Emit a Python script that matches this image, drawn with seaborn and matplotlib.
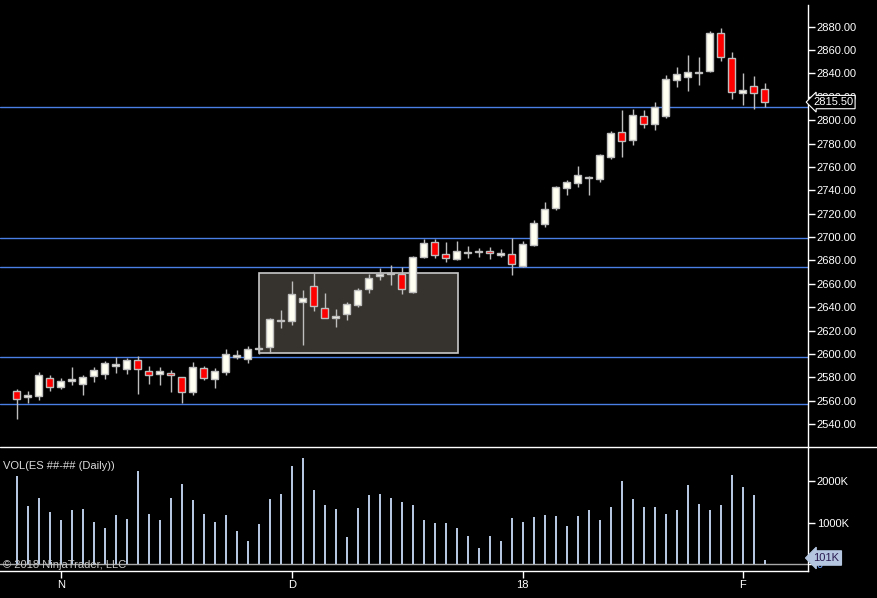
import numpy as np
import pandas as pd
import matplotlib
matplotlib.use("Agg")
import matplotlib.pyplot as plt
import matplotlib.patches as mpatches
from matplotlib.lines import Line2D
import seaborn as sns

# ---------------- data ----------------
opens = [2568.3, 2562.8, 2564.3, 2579.1, 2571.4, 2576.5, 2574.5, 2580.8, 2583.1, 2589.9,
         2587.4, 2594.5, 2585.1, 2583.1, 2583.7, 2579.9, 2567.7, 2587.7, 2578.8, 2584.8,
         2597.6, 2595.9, 2604.2, 2605.6, 2628.0, 2627.8, 2644.1, 2657.8, 2639.0, 2630.4,
         2633.8, 2642.1, 2655.2, 2666.6, 2668.1, 2668.6, 2653.2, 2683.2, 2695.4, 2685.2,
         2681.5, 2686.4, 2687.3, 2687.7, 2684.3, 2685.2, 2675.5, 2693.1, 2710.8, 2725.1,
         2741.6, 2746.5, 2750.5, 2749.9, 2768.7, 2789.6, 2782.7, 2803.3, 2797.0, 2803.8,
         2834.6, 2837.2, 2840.4, 2842.3, 2874.3, 2852.9, 2822.9, 2828.9, 2826.4]
highs = [2570.0, 2568.3, 2584.5, 2581.9, 2579.4, 2588.8, 2581.9, 2588.8, 2593.9, 2597.1,
         2596.5, 2598.2, 2589.7, 2588.8, 2585.9, 2580.5, 2593.1, 2589.7, 2587.9, 2603.9,
         2603.3, 2606.8, 2607.6, 2630.7, 2637.5, 2662.4, 2654.7, 2668.9, 2652.1, 2638.4,
         2644.7, 2656.4, 2668.3, 2673.8, 2676.0, 2674.1, 2683.7, 2698.3, 2698.3, 2695.4,
         2696.6, 2692.3, 2690.3, 2691.2, 2689.5, 2698.9, 2696.3, 2714.5, 2729.9, 2743.6,
         2748.8, 2760.8, 2752.2, 2771.0, 2790.7, 2808.7, 2809.8, 2808.7, 2815.5, 2838.3,
         2845.5, 2855.7, 2854.0, 2876.3, 2878.6, 2858.3, 2840.3, 2837.8, 2831.8]
lows = [2544.3, 2558.0, 2560.6, 2568.3, 2570.0, 2573.4, 2564.8, 2576.2, 2578.8, 2584.0,
        2583.1, 2566.0, 2574.5, 2573.4, 2567.4, 2558.0, 2564.8, 2577.7, 2571.1, 2582.2,
        2595.6, 2592.5, 2599.9, 2601.0, 2622.4, 2625.0, 2607.6, 2637.0, 2630.4, 2623.3,
        2629.3, 2640.4, 2652.4, 2663.5, 2658.9, 2651.5, 2652.4, 2682.3, 2682.3, 2678.9,
        2680.3, 2682.3, 2683.2, 2681.5, 2682.6, 2667.6, 2674.1, 2692.3, 2708.8, 2723.1,
        2735.9, 2743.1, 2735.9, 2747.4, 2767.0, 2768.7, 2778.7, 2793.6, 2791.6, 2802.1,
        2828.6, 2825.2, 2830.4, 2840.9, 2850.9, 2818.4, 2813.2, 2809.2, 2811.5]
closes = [2561.7, 2564.5, 2581.9, 2571.4, 2576.5, 2578.2, 2580.2, 2585.9, 2591.9, 2591.4,
          2594.5, 2587.4, 2582.2, 2585.1, 2581.7, 2567.7, 2588.5, 2579.7, 2585.1, 2599.6,
          2599.1, 2603.9, 2604.6, 2629.8, 2628.6, 2650.9, 2647.5, 2641.2, 2631.0, 2632.1,
          2642.4, 2654.4, 2664.6, 2668.3, 2669.5, 2655.8, 2682.6, 2694.6, 2684.3, 2681.8,
          2687.7, 2686.8, 2687.7, 2686.0, 2686.0, 2676.5, 2693.7, 2711.7, 2723.7, 2742.5,
          2746.8, 2752.8, 2751.0, 2769.9, 2788.7, 2782.4, 2804.1, 2796.4, 2811.0, 2834.9,
          2839.2, 2840.9, 2840.8, 2874.3, 2853.8, 2824.4, 2825.5, 2822.9, 2815.5]
volumes_k = [2120, 1400, 1592, 1256, 1064, 1304, 1328, 1016, 872, 1184,
             1088, 2240, 1208, 1064, 1592, 1928, 1544, 1208, 1016, 1184,
             800, 560, 968, 1568, 1688, 2360, 2552, 1784, 1424, 1328,
             656, 1352, 1664, 1688, 1592, 1496, 1424, 1064, 992, 992,
             872, 680, 392, 680, 560, 1112, 1016, 1136, 1184, 1160,
             920, 1160, 1304, 1064, 1376, 2000, 1568, 1376, 1376, 1208,
             1304, 1904, 1448, 1304, 1424, 2144, 1856, 1664, 101]

month_tick_pos = [4, 25, 46, 66]
month_tick_labels = ["N", "D", "18", "F"]
price_ticks = list(range(2540, 2881, 20))
vol_ticks = [0, 1000, 2000]
vol_tick_labels = ["0", "1000K", "2000K"]
hlines_levels = [2811.0, 2699.3, 2674.3, 2597.4, 2557.0]
zone_x = [22.05, 40.15]
zone_y = [2600.5, 2669.0]

n = len(closes)
idx = np.arange(n)
df = pd.DataFrame({"i": idx, "open": opens, "high": highs, "low": lows,
                   "close": closes, "vol": volumes_k})

# ---------------- style ----------------
sns.set_theme(style="dark", rc={"axes.facecolor": "black", "figure.facecolor": "black"})
plt.rcParams["font.family"] = ["Liberation Sans", "DejaVu Sans"]

W, H = 877, 598
fig = plt.figure(figsize=(W / 100, H / 100), dpi=100)
fig.patch.set_facecolor("black")

axis_x = 808.3
ax = fig.add_axes([0, 1 - 447.3 / H, axis_x / W, (447.3 - 5) / H])
axv = fig.add_axes([0, 1 - 570.7 / H, axis_x / W, (570.7 - 448) / H], sharex=ax)

for a in (ax, axv):
    a.set_facecolor("black")
    a.grid(False)
    for s in a.spines.values():
        s.set_visible(False)
    a.spines["right"].set_visible(True)
    a.spines["right"].set_color("white")
    a.spines["right"].set_linewidth(1.0)

xlim = (-1.52, 71.96)
ax.set_xlim(*xlim)
ax.set_ylim(2520.06, 2898.57)

# reference lines
for lv in hlines_levels:
    ax.axhline(lv, color="#4A7FE6", lw=1.0, zorder=1)

# zone rectangle
ax.add_patch(mpatches.Rectangle((zone_x[0], zone_y[0]), zone_x[1] - zone_x[0],
                                zone_y[1] - zone_y[0], facecolor="#36322D",
                                edgecolor="#C8C8C8", lw=1.2, zorder=2))

# candles
body_w = 0.6
ax.vlines(df["i"], df["low"], df["high"], color="#BEBEBE", lw=1.0, zorder=3)
up = df["close"] >= df["open"]
bottoms = np.minimum(df["open"], df["close"])
heights = np.maximum(np.abs(df["close"] - df["open"]), 0.5)
colors = np.where(up, "#FFFFF2", "#FF0000")
ax.bar(df["i"], heights, bottom=bottoms, width=body_w, color=colors,
       edgecolor="#BEBEBE", linewidth=1.0, zorder=4)

# price axis
ax.yaxis.tick_right()
ax.set_yticks(price_ticks)
ax.set_yticklabels([f"{t:.2f}" for t in price_ticks])
ax.tick_params(axis="y", colors="white", labelcolor="white", labelsize=8,
               length=5, width=1, pad=1, direction="out", right=True, left=False)
ax.tick_params(axis="x", bottom=False, labelbottom=False)

# last price tag
ax.text(1.0 + 5 / axis_x, closes[-1], f"{closes[-1]:.2f}", transform=ax.get_yaxis_transform(),
        ha="left", va="center", fontsize=8, color="white", zorder=10,
        bbox=dict(boxstyle="larrow,pad=0.15", facecolor="black", edgecolor="white", lw=0.8),
        clip_on=False)

# volume panel
sns.barplot(data=df, x="i", y="vol", native_scale=True, width=0.2, color="#B4C6E0",
            saturation=1, errorbar=None, ax=axv, zorder=3, edgecolor="none", linewidth=0)
axv.set_xlim(*xlim)
axv.set_ylim(-153.5, 2789)
axv.axhline(0, color="#A8A8A8", lw=1.0, zorder=2)
axv.spines["bottom"].set_visible(True)
axv.spines["bottom"].set_color("white")
axv.spines["bottom"].set_linewidth(1.0)
axv.yaxis.tick_right()
axv.set_yticks(vol_ticks)
axv.set_yticklabels(vol_tick_labels)
axv.tick_params(axis="y", colors="white", labelcolor="white", labelsize=8,
                length=5, width=1, pad=1, right=True, left=False)
axv.set_xticks(month_tick_pos)
axv.set_xticklabels(month_tick_labels)
axv.tick_params(axis="x", colors="white", labelcolor="white", labelsize=8,
                length=5, width=1, pad=2, bottom=True)
axv.set_xlabel("")
axv.set_ylabel("")
axv.yaxis.get_ticklabels()[0].set_color("#6CA0FF")

axv.text(1.0 + 5 / axis_x, volumes_k[-1] + 50, f"{volumes_k[-1]}K", transform=axv.get_yaxis_transform(),
         ha="left", va="center", fontsize=8, color="#2A1A50", zorder=10,
         bbox=dict(boxstyle="larrow,pad=0.2", facecolor="#B4C6E0", edgecolor="#B4C6E0", lw=0.8),
         clip_on=False)

# separator across full width
fig.add_artist(Line2D([0, 1], [1 - 447.3 / H, 1 - 447.3 / H], color="white", lw=1.0,
                      transform=fig.transFigure))

fig.text(3 / W, 1 - 466 / H, "VOL(ES ##-## (Daily))", color="#DCDCDC", fontsize=8,
         ha="left", va="center")
fig.text(3 / W, 1 - 565 / H, "© 2018 NinjaTrader, LLC", color="#C8C8C8", fontsize=8,
         ha="left", va="center", zorder=1)

fig.savefig("out.png", dpi=100, facecolor="black")
